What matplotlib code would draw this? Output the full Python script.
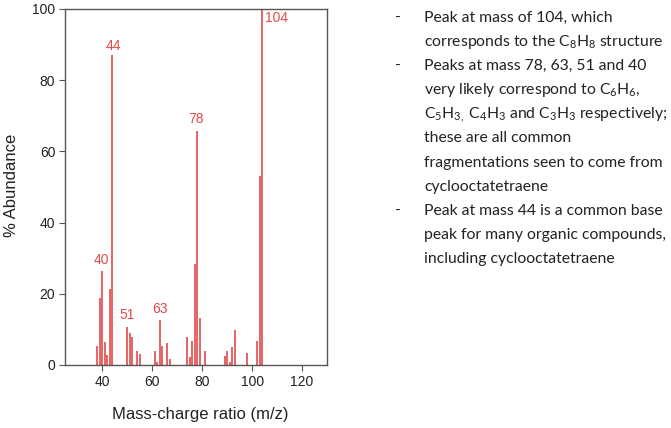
import matplotlib
matplotlib.use("Agg")
import matplotlib.pyplot as plt

plt.rcParams['mathtext.fontset'] = 'custom'
plt.rcParams['mathtext.rm'] = 'Lato'
plt.rcParams['mathtext.it'] = 'Lato'

# peaks: m/z and % abundance
mass = [38, 39, 40, 41, 42, 43, 44, 50, 51, 52, 54, 55, 61, 62, 63, 64, 66, 67,
        74, 75, 76, 77, 78, 79, 81, 89, 90, 91, 92, 93, 98, 102, 103, 104]
abundance = [5.4, 18.8, 26.3, 6.4, 2.8, 21.4, 87, 10.6, 8.9, 7.8, 3.8, 3.1, 4.0, 0.9, 12.6, 5.3, 6.3, 1.6,
             7.8, 2.3, 6.8, 28.4, 65.8, 13.2, 4.0, 2.6, 4.0, 0.9, 5.1, 9.8, 3.3, 6.8, 53, 100]

# labelled peaks
label_text = ['40', '44', '51', '63', '78']
label_x = [39.7, 44.4, 50.0, 63.0, 77.7]
label_y = [29.5, 89.6, 14.0, 15.6, 69.0]

notes = [
    ('-', 'Peak at mass of 104, which'),
    ('', r'corresponds to the C$_8$H$_8$ structure'),
    ('-', 'Peaks at mass 78, 63, 51 and 40'),
    ('', r'very likely correspond to C$_6$H$_6$,'),
    ('', r'C$_5$H$_{3,}$ C$_4$H$_3$ and C$_3$H$_3$ respectively;'),
    ('', 'these are all common'),
    ('', 'fragmentations seen to come from'),
    ('', 'cyclooctatetraene'),
    ('-', 'Peak at mass 44 is a common base'),
    ('', 'peak for many organic compounds,'),
    ('', 'including cyclooctatetraene'),
]

red = '#e34a4a'
fig = plt.figure(figsize=(6.71, 4.28), dpi=100)
ax = fig.add_axes([0.0969, 0.1472, 0.3904, 0.8318])

ax.vlines(mass, 0, abundance, color=red, lw=1.2)
for t, x, y in zip(label_text, label_x, label_y):
    ax.text(x, y, t, color=red, fontsize=10, ha='center', va='center', family='Liberation Sans')
ax.text(105.3, 97.5, '104', color=red, fontsize=10, ha='left', va='center', family='Liberation Sans')

ax.set_xlim(25, 130)
ax.set_ylim(0, 100)
ax.set_xticks([40, 60, 80, 100, 120])
ax.set_yticks([0, 20, 40, 60, 80, 100])
for sp in ax.spines.values():
    sp.set_color('#555555')
    sp.set_linewidth(1.0)
ax.tick_params(direction='out', length=4, color='#555555', labelsize=10, pad=3)
for lab in ax.get_xticklabels() + ax.get_yticklabels():
    lab.set_family('Liberation Sans')
    lab.set_color('#222222')

fig.text(200 / 671, 1 - 415 / 428, 'Mass-charge ratio (m/z)', ha='center', va='center',
         fontsize=12, family='Liberation Sans', color='#222222')
fig.text(12 / 671, 1 - 185 / 428, '% Abundance', ha='center', va='center', rotation=90,
         fontsize=12, family='Liberation Sans', color='#222222')

for i, (dash, line) in enumerate(notes):
    y = 1 - (18 + i * 24.1) / 428
    if dash:
        fig.text(398 / 671, y, dash, ha='center', va='center', fontsize=11.3, family='Lato', color='#222222')
    fig.text(424 / 671, y, line, ha='left', va='center', fontsize=11.3, family='Lato', color='#222222')

fig.savefig('out.png', dpi=100)
